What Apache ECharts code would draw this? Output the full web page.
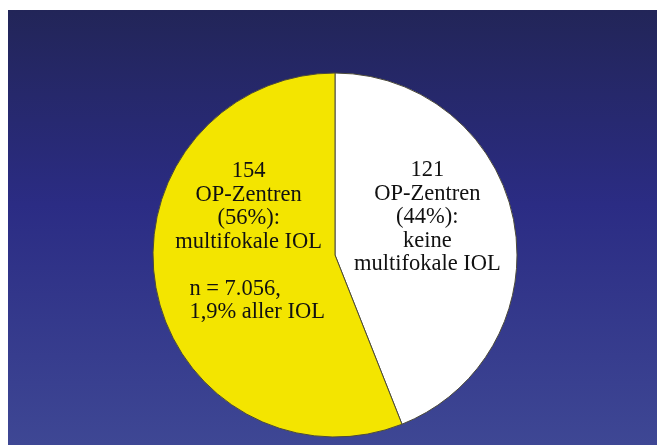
<!DOCTYPE html>
<html>
<head>
<meta charset="utf-8">
<script src="https://cdn.jsdelivr.net/npm/echarts@6/dist/echarts.min.js"></script>
<style>
  html, body { margin: 0; padding: 0; background: #ffffff; }
  #chart { position: absolute; left: 8px; top: 10px; width: 649px; height: 435px; }
</style>
</head>
<body>
<div id="chart"></div>
<script>
// OP-Zentren mit / ohne multifokale IOL
const names = ['keine multifokale IOL', 'multifokale IOL'];
const centres = [121, 154];
const shares = ['44%', '56%'];
const sliceColors = ['#ffffff', '#f3e500'];
const extraLines = [[], ['n = 7.056,', '1,9% aller IOL']];

const chart = echarts.init(document.getElementById('chart'));

const labelOffsets = [[0, -20], [6, -31]];

function labelText(p) {
  const i = p.dataIndex;
  let lines = ['{c|' + centres[i] + '}', '{c|OP-Zentren}', '{c|(' + shares[i] + '):}'];
  if (i === 0) {
    lines.push('{c|keine}', '{c|multifokale IOL}');
  } else {
    lines.push('{c|multifokale IOL}', '');
    extraLines[i].forEach(t => lines.push('{l|' + t + '}'));
  }
  return lines.join('\n');
}

const option = {
  backgroundColor: {
    type: 'linear', x: 0, y: 0, x2: 0, y2: 1,
    colorStops: [
      { offset: 0, color: '#222558' },
      { offset: 0.45, color: '#2b2c84' },
      { offset: 1, color: '#3e4794' }
    ]
  },
  animation: false,
  series: [{
    type: 'pie',
    center: [327, 245],
    radius: [0, 182],
    startAngle: 90,
    clockwise: true,
    data: names.map((n, i) => ({
      name: n,
      value: centres[i],
      itemStyle: { color: sliceColors[i] }
    })),
    itemStyle: { borderColor: '#4d4b3a', borderWidth: 1 },
    emphasis: { disabled: true },
    label: {
      show: true,
      position: 'inside',
      formatter: labelText,
      fontFamily: 'Liberation Serif',
      fontSize: 22.5,
      lineHeight: 23.5,
      color: '#111111',
      rich: {
        c: { fontFamily: 'Liberation Serif', fontSize: 22.5, lineHeight: 23.5, color: '#111111', align: 'center' },
        l: { fontFamily: 'Liberation Serif', fontSize: 22.5, lineHeight: 23.5, color: '#111111', align: 'left', padding: [0, 0, 0, 17] }
      }
    },
    labelLayout: function (p) {
      const o = labelOffsets[p.dataIndex];
      return { dx: o[0], dy: o[1] };
    },
    labelLine: { show: false }
  }]
};

chart.setOption(option);
</script>
</body>
</html>
